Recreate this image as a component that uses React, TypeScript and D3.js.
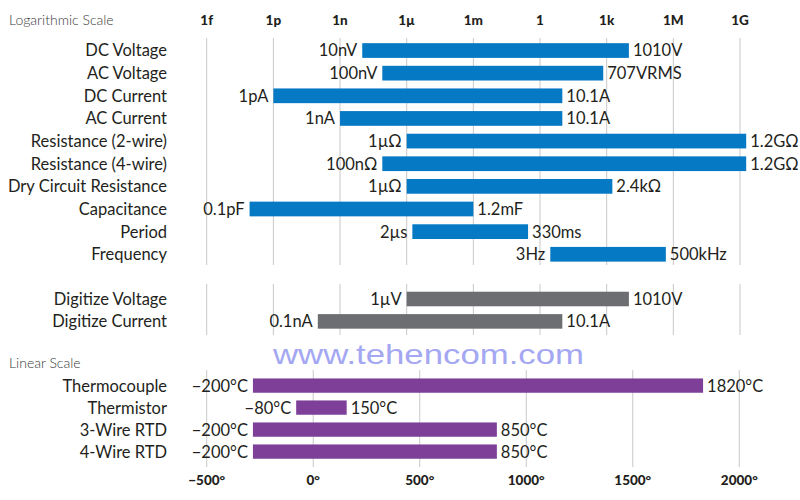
import React from "react";
import * as d3 from "d3";

const logCategories = ["DC Voltage", "AC Voltage", "DC Current", "AC Current", "Resistance (2-wire)", "Resistance (4-wire)", "Dry Circuit Resistance", "Capacitance", "Period", "Frequency"];
const logMin = [1e-8, 8e-8, 1e-12, 1e-9, 1e-6, 8e-8, 1e-6, 8.5e-14, 1.8e-6, 2.9];
const logMax = [1e4, 700, 10.1, 10.1, 1.9e9, 1.9e9, 1.8e3, 1e-3, 0.29, 4.6e5];
const logMinLabels = ["10nV", "100nV", "1pA", "1nA", "1µΩ", "100nΩ", "1µΩ", "0.1pF", "2µs", "3Hz"];
const logMaxLabels = ["1010V", "707VRMS", "10.1A", "10.1A", "1.2GΩ", "1.2GΩ", "2.4kΩ", "1.2mF", "330ms", "500kHz"];

const digCategories = ["Digitize Voltage", "Digitize Current"];
const digMin = [1e-6, 1e-10];
const digMax = [1e4, 10.1];
const digMinLabels = ["1µV", "0.1nA"];
const digMaxLabels = ["1010V", "10.1A"];

const linCategories = ["Thermocouple", "Thermistor", "3-Wire RTD", "4-Wire RTD"];
const linMin = [-283, -80, -283, -283];
const linMax = [1830, 157, 862, 862];
const linMinLabels = ["−200°C", "−80°C", "−200°C", "−200°C"];
const linMaxLabels = ["1820°C", "150°C", "850°C", "850°C"];

const logTicks = [1e-15, 1e-12, 1e-9, 1e-6, 1e-3, 1, 1e3, 1e6, 1e9];
const logTickLabels = ["1f", "1p", "1n", "1µ", "1m", "1", "1k", "1M", "1G"];
const linTicks = [-500, 0, 500, 1000, 1500, 2000];
const linTickLabels = ["−500°", "0°", "500°", "1000°", "1500°", "2000°"];

const FONT = "Lato, 'Open Sans', sans-serif";
const BLUE = "#0679c4";
const GRAY = "#6d6e71";
const PURPLE = "#7d3f98";
const GRID = "#c8c8c8";
const TEXT = "#231f20";

type GroupProps = {
  cats: string[];
  mins: number[];
  maxs: number[];
  minLabels: string[];
  maxLabels: string[];
  x: (v: number) => number;
  y0: number;
  y1: number;
  color: string;
};

function Group({ cats, mins, maxs, minLabels, maxLabels, x, y0, y1, color }: GroupProps) {
  const y = d3.scaleBand<string>().domain(cats).range([y0, y1]).paddingInner(0.35).paddingOuter(0.175);
  const fs = 16.5;
  return (
    <g>
      {cats.map((c, i) => {
        const yc = (y(c) as number) + y.bandwidth() / 2;
        const xa = x(mins[i]);
        const xb = x(maxs[i]);
        return (
          <g key={c}>
            <rect x={xa} y={y(c)} width={xb - xa} height={y.bandwidth()} fill={color} />
            <text x={167} y={yc} dy="0.36em" textAnchor="end" fontSize={fs} fill={TEXT} fontFamily={FONT}>{c}</text>
            <text x={xa - 5} y={yc} dy="0.36em" textAnchor="end" fontSize={fs} fill={TEXT} fontFamily={FONT}>{minLabels[i]}</text>
            <text x={xb + 4} y={yc} dy="0.36em" textAnchor="start" fontSize={fs} fill={TEXT} fontFamily={FONT}>{maxLabels[i]}</text>
          </g>
        );
      })}
    </g>
  );
}

export default function App() {
  const xLog = d3.scaleLog().domain([1e-15, 1e9]).range([206.7, 740]);
  const xLin = d3.scaleLinear().domain([-500, 2000]).range([206.7, 739.3]);

  return (
    <div style={{ position: "absolute", left: 0, top: 0 }}>
      <svg width={800} height={500} style={{ display: "block", background: "#fff" }}>
        {logTicks.map((t) => (
          <g key={"g" + t}>
            <line x1={xLog(t)} x2={xLog(t)} y1={38} y2={265} stroke={GRID} strokeWidth={1} />
            <line x1={xLog(t)} x2={xLog(t)} y1={284} y2={335} stroke={GRID} strokeWidth={1} />
          </g>
        ))}
        {linTicks.map((t) => (
          <line key={"l" + t} x1={xLin(t)} x2={xLin(t)} y1={370} y2={467} stroke={GRID} strokeWidth={1} />
        ))}

        {logTicks.map((t, i) => (
          <text key={"t" + t} x={xLog(t)} y={20} dy="0.36em" textAnchor="middle" fontSize={13.5} fontWeight="900" fill={TEXT} fontFamily={FONT}>
            {logTickLabels[i]}
          </text>
        ))}
        {linTicks.map((t, i) => (
          <text key={"b" + t} x={xLin(t)} y={480} dy="0.36em" textAnchor="middle" fontSize={13.5} fontWeight="900" fill={TEXT} fontFamily={FONT}>
            {linTickLabels[i]}
          </text>
        ))}

        <text x={9} y={20} dy="0.36em" fontSize={14} fill="#3a3a3a" fontWeight={300} fontFamily={FONT}>Logarithmic Scale</text>
        <text x={9} y={363} dy="0.36em" fontSize={14} fill="#3a3a3a" fontWeight={300} fontFamily={FONT}>Linear Scale</text>

        <text x={273} y={364} fontSize={28} fill="#a4a7f1" fontFamily="'Liberation Sans', Arial, sans-serif" textLength={311} lengthAdjust="spacingAndGlyphs">
          www.tehencom.com
        </text>

        <Group cats={logCategories} mins={logMin} maxs={logMax} minLabels={logMinLabels} maxLabels={logMaxLabels} x={xLog} y0={39.2} y1={265.6} color={BLUE} />
        <Group cats={digCategories} mins={digMin} maxs={digMax} minLabels={digMinLabels} maxLabels={digMaxLabels} x={xLog} y0={287.8} y1={332.6} color={GRAY} />
        <Group cats={linCategories} mins={linMin} maxs={linMax} minLabels={linMinLabels} maxLabels={linMaxLabels} x={xLin} y0={374.6} y1={462.6} color={PURPLE} />
      </svg>
    </div>
  );
}
